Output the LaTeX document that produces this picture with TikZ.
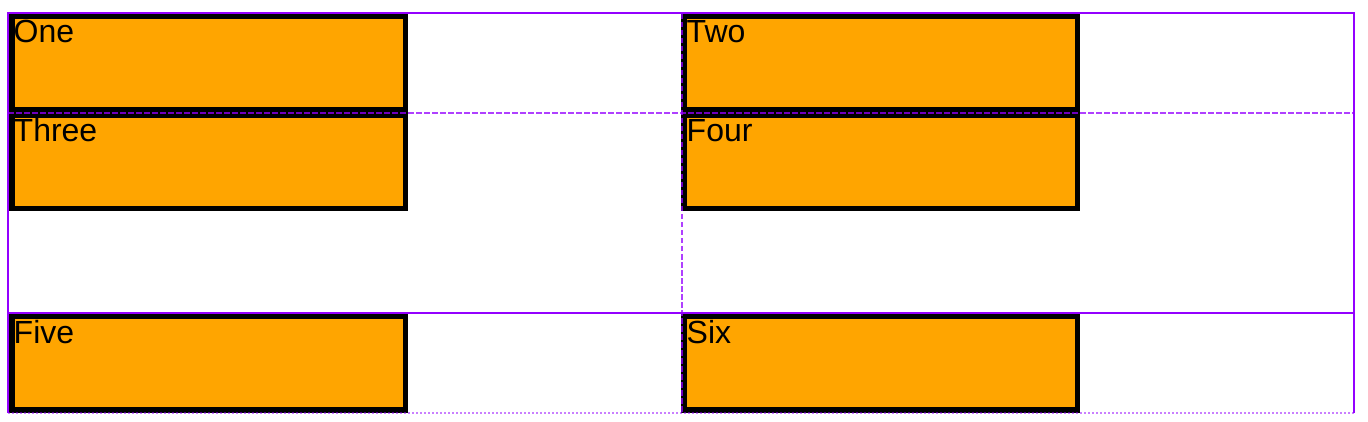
\documentclass[tikz,border=0pt]{standalone}
\usepackage{fontspec}
\setmainfont{Liberation Sans}
\usetikzlibrary{calc}
\definecolor{boxorange}{HTML}{FFA500}
\definecolor{gridpurple}{HTML}{9400FF}

\begin{document}
\begin{tikzpicture}[x=1pt, y=-1pt,
  box/.style={draw=black, fill=boxorange, line width=5.5pt,
    minimum width=393.5pt, minimum height=93.5pt, inner sep=0pt},
  boxtext/.style={anchor=base west, inner sep=0pt, font=\fontsize{32}{38}\selectfont},
  gridsolid/.style={draw=gridpurple, line width=2pt},
  griddash/.style={draw=gridpurple, draw opacity=0.75, line width=2pt, dash pattern=on 5.5pt off 2.5pt},
  griddot/.style={draw=gridpurple, draw opacity=0.5, line width=2pt, dash pattern=on 2pt off 2pt}]
  \useasboundingbox (0,0) rectangle (1368,422);
  % Grid items
  \node[box] (one) at (208.5,63) {};
  \node[box] (two) at (880.5,63) {};
  \node[box] (three) at (208.5,162) {};
  \node[box] (four) at (880.5,162) {};
  \node[box] (five) at (208.5,363) {};
  \node[box] (six) at (880.5,363) {};
  % Item labels
  \node[boxtext] (one-text) at ($(one.north west)+(4.5,29.5)$) {One};
  \node[boxtext] (two-text) at ($(two.north west)+(5.5,29.5)$) {Two};
  \node[boxtext] (three-text) at ($(three.north west)+(4.5,29.5)$) {Three};
  \node[boxtext] (four-text) at ($(four.north west)+(5.5,29.5)$) {Four};
  \node[boxtext] (five-text) at ($(five.north west)+(4.5,29.5)$) {Five};
  \node[boxtext] (six-text) at ($(six.north west)+(5.5,29.5)$) {Six};
  % Grid overlay: outer edges
  \draw[gridsolid] (7,13) -- (1355,13);
  \draw[gridsolid] (8,13) -- (8,413);
  \draw[gridsolid] (1354,13) -- (1354,413);
  \draw[gridsolid] (8,313) -- (1354,313);
  % Inner lines
  \draw[griddash] (8,113) -- (1354,113);
  \draw[griddash] (682,14) -- (682,413);
  % Implicit row edge
  \draw[griddot] (8,413) -- (1354,413);
\end{tikzpicture}
\end{document}
